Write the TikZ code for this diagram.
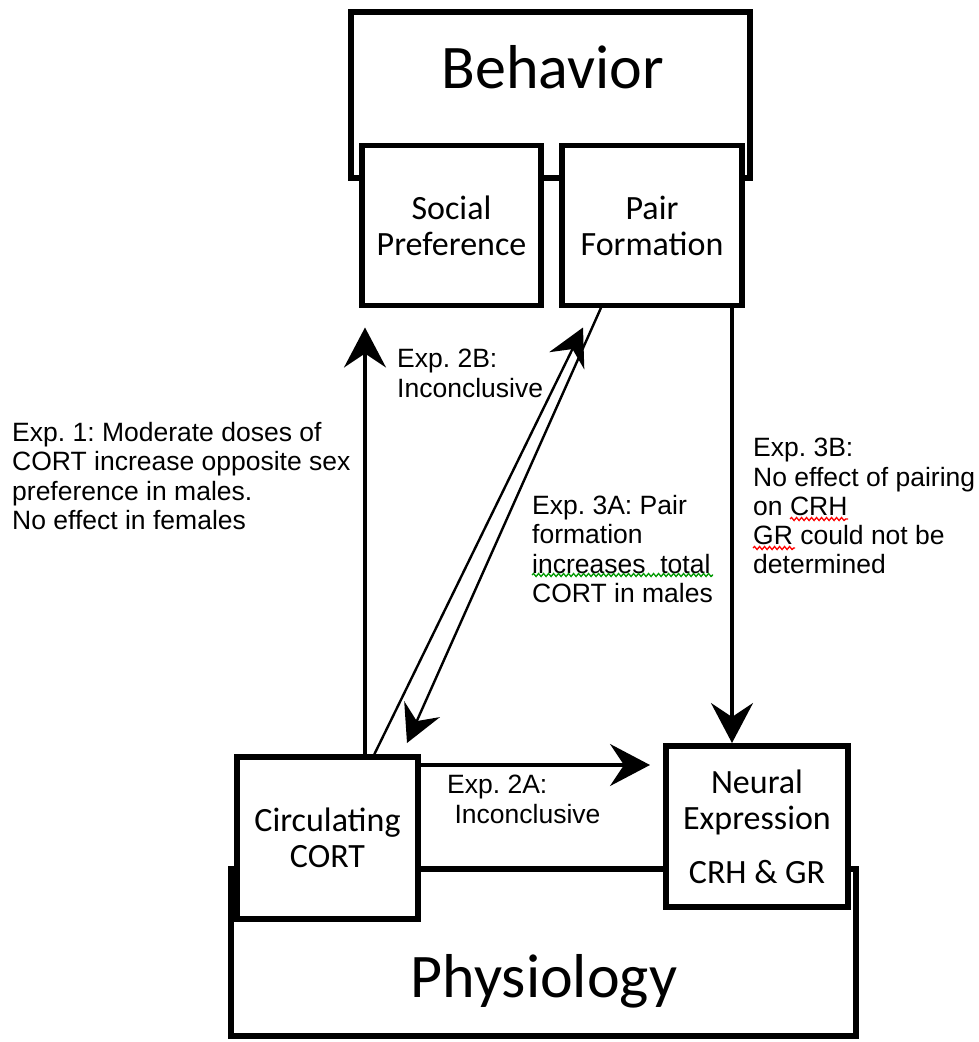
\documentclass[tikz,border=0pt]{standalone}
\usepackage{fontspec}
\setmainfont{Carlito}
\newfontfamily\notefont{Liberation Sans}
\frenchspacing
\usetikzlibrary{arrows.meta,calc,positioning,decorations.pathmorphing}

\begin{document}
\begin{tikzpicture}[x=1pt, y=-1pt,
    group/.style={rectangle, draw=black, line width=5.5pt, outer sep=0pt, inner sep=0pt},
    box/.style={rectangle, draw=black, fill=white, line width=5.5pt, outer sep=0pt, inner sep=0pt, minimum height=160pt, align=center, font=\fontsize{34}{36}\selectfont},
    title/.style={anchor=base, inner sep=0pt, font=\fontsize{62}{70}\selectfont},
    note/.style={anchor=north west, inner sep=0pt, align=left, font=\notefont\frenchspacing\fontsize{26.5}{29.3}\selectfont},
    arr/.style={line width=3.2pt, -{Stealth[length=40pt,width=42pt,inset=14pt]}},
    pairarr/.style={line width=2.4pt, -{Stealth[length=37pt,width=39pt,inset=13pt]}},
    squiggle/.style={line width=1.3pt, decorate, decoration={snake, segment length=5pt, amplitude=1.5pt}}
    ]
    \useasboundingbox (0,0) rectangle (979,1042);

    %Nodes
    \node[group, minimum width=399pt, minimum height=166pt] (behavior) at (550.5,95) {};
    \node[group, minimum width=625pt, minimum height=167pt] (physiology) at (543.5,952.5) {};
    \node[title] (behaviortitle) at (553,88) {Behavior};
    \node[title] (physiologytitle) at (544,997) {Physiology};
    \node[box, minimum width=179pt] (social) at (451.5,225.5) {Social\\Preference};
    \node[box, minimum width=180pt] (pair) [right=21pt of social] {Pair\\Formation};
    \node[box, minimum width=181pt, minimum height=162pt] (cort) at (327.5,838) {Circulating\\CORT};
    \node[box, minimum width=182pt, minimum height=161pt] (neural) at (757,826.5) {Neural\\Expression\\[18pt]CRH \& GR};

    \node[note] (exp1) at (12,422) {Exp. 1: Moderate doses of\\CORT increase opposite sex\\preference in males.\\No effect in females};
    \node[note] (exp2b) at (397,349) {Exp. 2B:\\Inconclusive};
    \node[note] (exp3a) at (532,495) {Exp. 3A: Pair\\formation\\increases\ \ total\\CORT in males};
    \node[note] (exp3b) at (753,438) {Exp. 3B:\\No effect of pairing\\on CRH\\GR could not be\\determined};
    \node[note] (exp2a) at (447,775) {Exp. 2A:\\\hspace*{0.28em}Inconclusive};

    %Lines
    \draw[arr] ($(cort.north west)+(128,0)$) -- ($(social.south west)+(3,22)$);
    \draw[pairarr] ($(cort.north west)+(136,0)$) -- ($(pair.south west)+(21,22)$);
    \draw[pairarr] ($(pair.south west)+(40,0)$) -- ($(cort.north west)+(170,-14)$);
    \draw[arr] ($(pair.south west)+(170,0)$) -- ($(neural.north west)+(66,-3)$);
    \draw[arr] ($(cort.north east)+(0,8)$) -- ($(neural.north west)+(-16,19)$);

    %Spelling marks
    \draw[squiggle, green!60!black] (532,575) -- (713,575);
    \draw[squiggle, red] (790,519) -- (848,519);
    \draw[squiggle, red] (753,548) -- (795,548);

\end{tikzpicture}
\end{document}
